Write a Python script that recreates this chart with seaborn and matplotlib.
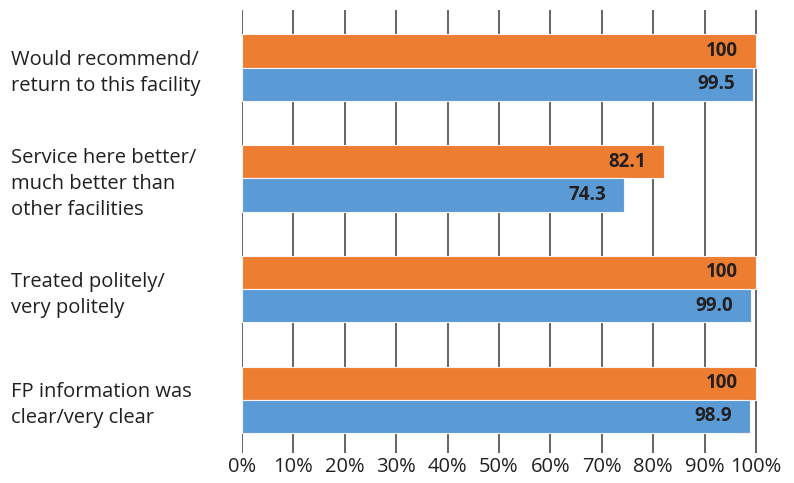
import matplotlib
matplotlib.use("Agg")
import matplotlib.pyplot as plt
import seaborn as sns
import pandas as pd

categories = [
    "Would recommend/\nreturn to this facility",
    "Service here better/\nmuch better than\nother facilities",
    "Treated politely/\nvery politely",
    "FP information was\nclear/very clear",
]
series_names = ["Series 1", "Series 2"]
orange_values = [100, 82.1, 100, 100]
blue_values = [99.5, 74.3, 99.0, 98.9]
orange_labels = ["100", "82.1", "100", "100"]
blue_labels = ["99.5", "74.3", "99.0", "98.9"]
x_ticks = [0, 10, 20, 30, 40, 50, 60, 70, 80, 90, 100]
x_tick_labels = [f"{t}%" for t in x_ticks]

df = pd.DataFrame({
    "category": categories * 2,
    "series": [series_names[0]] * 4 + [series_names[1]] * 4,
    "value": orange_values + blue_values,
    "label": orange_labels + blue_labels,
})

sns.set_theme(style="white")
plt.rcParams["font.family"] = ["Open Sans", "DejaVu Sans"]

fig = plt.figure(figsize=(7.94, 4.83), dpi=100)
ax = fig.add_axes([242 / 794, 1 - 453 / 483, (758 - 242) / 794, (453 - 10) / 483])

sns.barplot(
    data=df, y="category", x="value", hue="series", orient="h",
    order=categories, hue_order=series_names,
    palette=["#ED7D31", "#5B9BD5"], saturation=1, width=0.6, gap=0, dodge=True,
    legend=False, ax=ax, linewidth=0.8, edgecolor="#f6f6f6", zorder=3,
)

# value labels
for container, labels in zip(ax.containers, [orange_labels, blue_labels]):
    for bar, lab in zip(container, labels):
        ax.annotate(
            lab, xy=(bar.get_width(), bar.get_y() + bar.get_height() / 2),
            xytext=(-13, 0), textcoords="offset points",
            ha="right", va="center", fontsize=13.5, fontweight="bold",
            color="#231f20", zorder=5,
        )

ax.set_xlim(0, 100.4)
ax.set_ylim(3.48, -0.52)
ax.set_xticks(x_ticks)
ax.set_xticklabels(x_tick_labels, fontsize=14.5, color="#231f20")
for gx in x_ticks:
    ax.axvline(gx, color="#4a4a4a", linewidth=1.2, zorder=1)

for s in ax.spines.values():
    s.set_visible(False)
ax.tick_params(axis="x", length=0, pad=3)
ax.tick_params(axis="y", length=0, pad=166)
for lab in ax.get_yticklabels():
    lab.set_horizontalalignment("left")
    lab.set_fontsize(14.5)
    lab.set_color("#231f20")
    lab.set_linespacing(1.4)
ax.set_xlabel("")
ax.set_ylabel("")

fig.savefig("out.png", dpi=100)
